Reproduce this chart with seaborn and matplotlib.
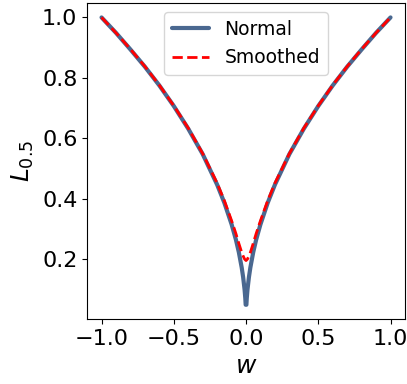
import matplotlib
matplotlib.use("Agg")
import matplotlib.pyplot as plt
import seaborn as sns
import numpy as np
import pandas as pd

# -------------------------------
# Data
# -------------------------------
w_normal = [-1.0, -0.9, -0.8, -0.7, -0.6, -0.5, -0.4, -0.3, -0.2, -0.15, -0.1,
            -0.07, -0.05, -0.03, -0.02, -0.01, -0.005, -0.0025,
            0.0025, 0.005, 0.01, 0.02, 0.03, 0.05, 0.07, 0.1, 0.15, 0.2,
            0.3, 0.4, 0.5, 0.6, 0.7, 0.8, 0.9, 1.0]
l_normal = [1.0, 0.949, 0.894, 0.837, 0.775, 0.707, 0.632, 0.548, 0.447, 0.387, 0.316,
            0.265, 0.224, 0.173, 0.141, 0.100, 0.071, 0.05,
            0.05, 0.071, 0.100, 0.141, 0.173, 0.224, 0.265, 0.316, 0.387, 0.447,
            0.548, 0.632, 0.707, 0.775, 0.837, 0.894, 0.949, 1.0]

w_smooth = [-1.0, -0.9, -0.8, -0.7, -0.6, -0.5, -0.4, -0.3, -0.2, -0.15, -0.1,
            -0.07, -0.05, -0.03, -0.02, -0.01, 0.0,
            0.01, 0.02, 0.03, 0.05, 0.07, 0.1, 0.15, 0.2,
            0.3, 0.4, 0.5, 0.6, 0.7, 0.8, 0.9, 1.0]
l_smooth = [1.0, 0.949, 0.895, 0.838, 0.776, 0.708, 0.634, 0.550, 0.452, 0.394, 0.328,
            0.285, 0.253, 0.223, 0.211, 0.201, 0.196,
            0.201, 0.211, 0.223, 0.253, 0.285, 0.328, 0.394, 0.452,
            0.550, 0.634, 0.708, 0.776, 0.838, 0.895, 0.949, 1.0]

df_normal = pd.DataFrame({"w": w_normal, "L": l_normal})
df_smooth = pd.DataFrame({"w": w_smooth, "L": l_smooth})

# -------------------------------
# Plot
# -------------------------------
sns.set_style("ticks", {"axes.edgecolor": "black", "text.color": "black",
                        "xtick.color": "black", "ytick.color": "black",
                        "axes.labelcolor": "black"})

fig, ax = plt.subplots(figsize=(4.07, 3.84), dpi=100)

sns.lineplot(data=df_normal, x="w", y="L", color="#4a6890", linewidth=3,
             label="Normal", ax=ax)
sns.lineplot(data=df_smooth, x="w", y="L", color="red", linewidth=2,
             linestyle="--", label="Smoothed", ax=ax)

ax.set_xlabel("$w$", fontsize=18)
ax.set_ylabel("$L_{0.5}$", fontsize=18)
ax.set_xticks([-1.0, -0.5, 0.0, 0.5, 1.0])
ax.set_yticks([0.2, 0.4, 0.6, 0.8, 1.0])
ax.tick_params(labelsize=16)
ax.legend(loc="upper center", fontsize=13.5)

fig.subplots_adjust(left=0.214, right=0.995, top=0.992, bottom=0.169)
fig.savefig("out.png")
